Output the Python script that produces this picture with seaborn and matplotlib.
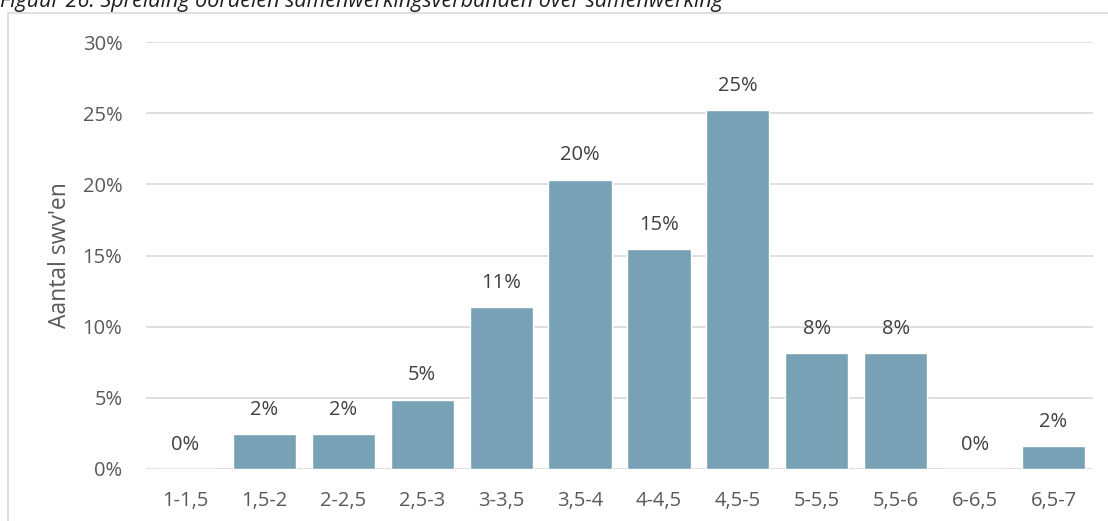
import matplotlib
matplotlib.use("Agg")
import matplotlib.pyplot as plt
import seaborn as sns
import pandas as pd
from matplotlib.patches import Rectangle

categories = ["1-1,5", "1,5-2", "2-2,5", "2,5-3", "3-3,5", "3,5-4",
              "4-4,5", "4,5-5", "5-5,5", "5,5-6", "6-6,5", "6,5-7"]
shares = [0.0, 2.44, 2.44, 4.88, 11.38, 20.33, 15.45, 25.20, 8.13, 8.13, 0.0, 1.63]
yticks = [0, 5, 10, 15, 20, 25, 30]

df = pd.DataFrame({"klasse": categories, "aandeel": shares})

sns.set_style("white")
plt.rcParams["font.family"] = ["Open Sans", "DejaVu Sans"]

grey = "#595959"
fig = plt.figure(figsize=(11.08, 5.21), dpi=100)
ax = fig.add_axes([146 / 1108, (521 - 469) / 521, (1093 - 146) / 1108, (469 - 42) / 521])

sns.barplot(data=df, x="klasse", y="aandeel", color="#78A1B5", width=0.8,
            saturation=1, ax=ax, zorder=3)

ax.set_xlim(-0.5, len(categories) - 0.5)
ax.set_ylim(0, 30)
ax.set_yticks(yticks)
ax.set_yticklabels([f"{t}%" for t in yticks], color=grey, fontsize=14.5)
ax.tick_params(axis="x", colors=grey, labelsize=14.5, pad=16, length=0)
ax.tick_params(axis="y", pad=17, length=0)
ax.yaxis.grid(True, color="#d9d9d9", linewidth=1.2, zorder=0)
ax.set_axisbelow(True)
for s in ax.spines.values():
    s.set_visible(False)

ax.set_xlabel("")
ax.set_ylabel("Aantal swv'en", color=grey, fontsize=16.5, labelpad=8)

for i, v in enumerate(shares):
    ax.text(i, v + 1.0, f"{round(v):.0f}%", ha="center", va="bottom",
            color="#404040", fontsize=14.5)

# outer chart border (as in the report)
fig.patches.append(Rectangle((8 / 1108, -0.05), 1.2, (521 - 13) / 521 + 0.05,
                             transform=fig.transFigure, fill=False,
                             edgecolor="#d9d9d9", linewidth=1.2))

fig.text(0.0, 0.997, "Figuur 26: Spreiding oordelen samenwerkingsverbanden over samenwerking",
         ha="left", va="center", fontsize=15.5, style="italic", color="#1f1f1f")

fig.savefig("out.png", dpi=100)
